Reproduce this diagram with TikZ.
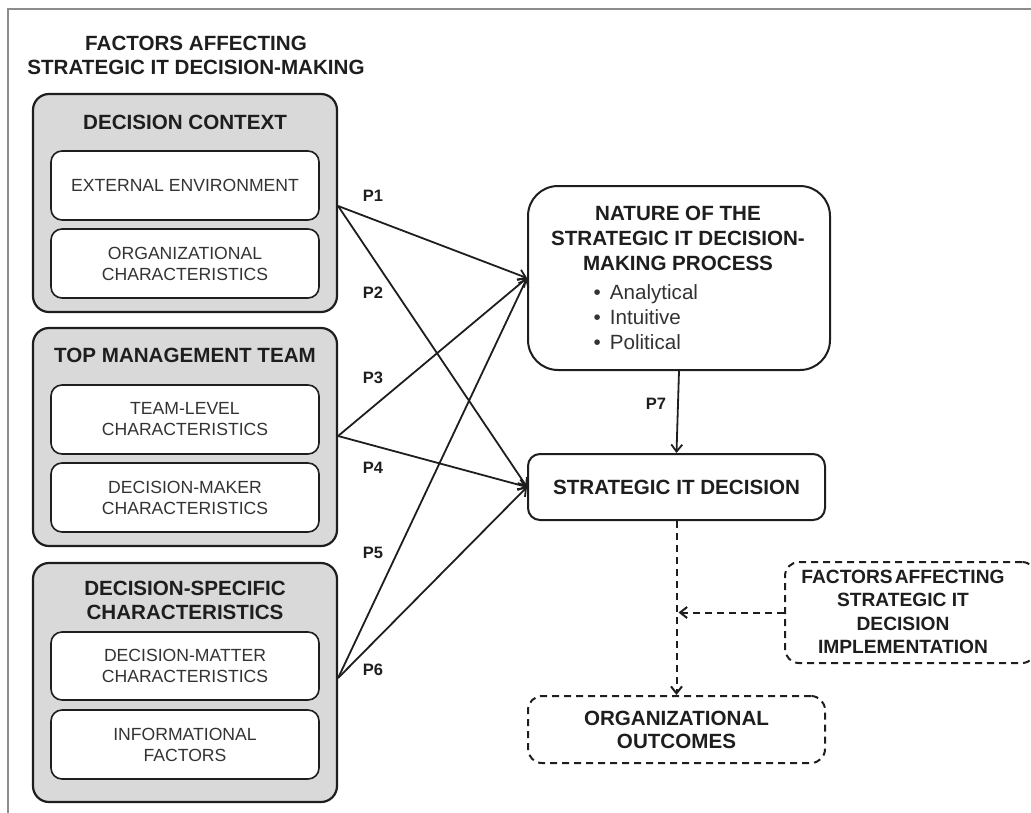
\documentclass[tikz,border=0pt]{standalone}
\usepackage{fontspec}
\setmainfont{Liberation Sans}
\usetikzlibrary{arrows.meta}

\definecolor{panelgray}{HTML}{D9D9D9}
\definecolor{edgedark}{HTML}{1E1E1E}
\definecolor{innertext}{HTML}{333333}
\definecolor{framegray}{HTML}{8C8C8C}

\tikzset{
  boldtxt/.style={font=\fontsize{20.6}{24}\selectfont\bfseries, text=edgedark, align=center, inner sep=0pt},
  plaintxt/.style={font=\fontsize{17.6}{21}\selectfont, text=innertext, align=center, inner sep=0pt},
  plabel/.style={font=\fontsize{16.5}{18}\selectfont\bfseries, text=edgedark, inner sep=0pt},
  panel/.style={draw=edgedark, line width=2.2pt, fill=panelgray, rounded corners=16pt,
    inner sep=0pt, minimum width=304pt},
  subbox/.style={draw=edgedark, line width=1.6pt, fill=white, rounded corners=11pt,
    inner sep=0pt, minimum width=268pt, minimum height=69pt},
  mainbox/.style={draw=edgedark, line width=2pt, fill=white, inner sep=0pt},
  dashbox/.style={draw=edgedark, line width=2pt, dash pattern=on 7pt off 5pt,
    rounded corners=14pt, inner sep=0pt},
  link/.style={draw=edgedark, line width=1.8pt, -{Straight Barb[length=7pt,width=11pt]}},
  dashlink/.style={link, line width=2pt, dash pattern=on 7pt off 5pt},
}

\begin{document}
\begin{tikzpicture}[x=1pt, y=-1pt]
\useasboundingbox (0,0) rectangle (1031,812);

% outer frame (only its top and left sides fall on the page)
\draw[framegray, line width=1.6pt] (8,830) -- (8,9) -- (1050,9);

% heading of the left column
\node[boldtxt] (head) at (196,55) {FACTORS AFFECTING\\STRATEGIC IT DECISION-MAKING};

% decision context
\node[panel, minimum height=218pt] (dc) at (185,203) {};
\node[boldtxt] (dct) at (185,122) {DECISION CONTEXT};
\node[subbox] (ee) at (185,185.5) {};
\node[plaintxt] (eet) at (185,185.5) {EXTERNAL ENVIRONMENT};
\node[subbox] (oc) at (185,263.5) {};
\node[plaintxt] (oct) at (185,263.5) {ORGANIZATIONAL\\CHARACTERISTICS};

% top management team
\node[panel, minimum height=218pt] (tmt) at (185,437) {};
\node[boldtxt] (tmtt) at (185,355) {TOP MANAGEMENT TEAM};
\node[subbox] (tl) at (185,419.5) {};
\node[plaintxt] (tlt) at (185,419.5) {TEAM-LEVEL\\CHARACTERISTICS};
\node[subbox] (dm) at (185,497.5) {};
\node[plaintxt] (dmt) at (185,497.5) {DECISION-MAKER\\CHARACTERISTICS};

% decision-specific characteristics
\node[panel, minimum height=239pt] (dsc) at (185,682.5) {};
\node[boldtxt] (dsct) at (185,600.5) {DECISION-SPECIFIC\\CHARACTERISTICS};
\node[subbox, minimum height=68pt] (mat) at (185,666) {};
\node[plaintxt] (matt) at (185,666) {DECISION-MATTER\\CHARACTERISTICS};
\node[subbox] (inf) at (185,744.5) {};
\node[plaintxt] (inft) at (185,744.5) {INFORMATIONAL\\FACTORS};

% nature of the decision-making process
\node[mainbox, rounded corners=30pt, minimum width=302pt, minimum height=184pt] (nat) at (679,278) {};
\node[boldtxt, font=\fontsize{20.6}{25}\selectfont\bfseries] (natt) at (678,238) {NATURE OF THE\\STRATEGIC IT DECISION-\\MAKING PROCESS};
\node[boldtxt, font=\fontsize{20.6}{25}\selectfont, text=innertext, align=left, anchor=west] (natl) at (593.5,317)
  {•\hspace{9pt}Analytical\\•\hspace{9pt}Intuitive\\•\hspace{9pt}Political};

% strategic IT decision
\node[mainbox, rounded corners=12pt, minimum width=297pt, minimum height=66pt, boldtxt] (sitd) at (676.5,487) {STRATEGIC IT DECISION};

% implementation factors and outcomes (tightly set text)
\node[dashbox, minimum width=251pt, minimum height=101pt] (fai) at (910.5,612.5) {};
\node[boldtxt, font=\fontsize{19.2}{23.3}\selectfont\bfseries] (fait) at (903,612)
  {\spaceskip=2pt\relax FACTORS AFFECTING\\STRATEGIC IT\\DECISION\\IMPLEMENTATION};
\node[dashbox, minimum width=297pt, minimum height=67pt, boldtxt, font=\fontsize{20.6}{23}\selectfont\bfseries] (oo) at (676.5,729.5) {ORGANIZATIONAL\\OUTCOMES};

% starting points of the propositions on the panels
\coordinate (o1) at ([yshift=-3pt]dc.east);
\coordinate (o2) at ([yshift=1pt]tmt.east);
\coordinate (o3) at ([yshift=4.5pt]dsc.east);

% propositions
\draw[link] (o1) -- (nat.west);
\draw[link] (o1) -- (sitd.west);
\draw[link] (o2) -- (nat.west);
\draw[link] (o2) -- (sitd.west);
\draw[link] (o3) -- (nat.west);
\draw[link] (o3) -- (sitd.west);
\draw[link] (nat.south) -- (sitd.north);

% moderated link to outcomes
\coordinate (mid) at (sitd.south |- fai.west);
\draw[dashlink] (sitd.south) -- (oo.north);
\draw[dashlink] (fai.west) -- ([xshift=2pt]mid);

% proposition labels
\node[plabel] (p1) at (373,196) {P1};
\node[plabel] (p2) at (373,293) {P2};
\node[plabel] (p3) at (373,378) {P3};
\node[plabel] (p4) at (373,468) {P4};
\node[plabel] (p5) at (373,553) {P5};
\node[plabel] (p6) at (373,670) {P6};
\node[plabel] (p7) at (656,404) {P7};
\end{tikzpicture}
\end{document}
